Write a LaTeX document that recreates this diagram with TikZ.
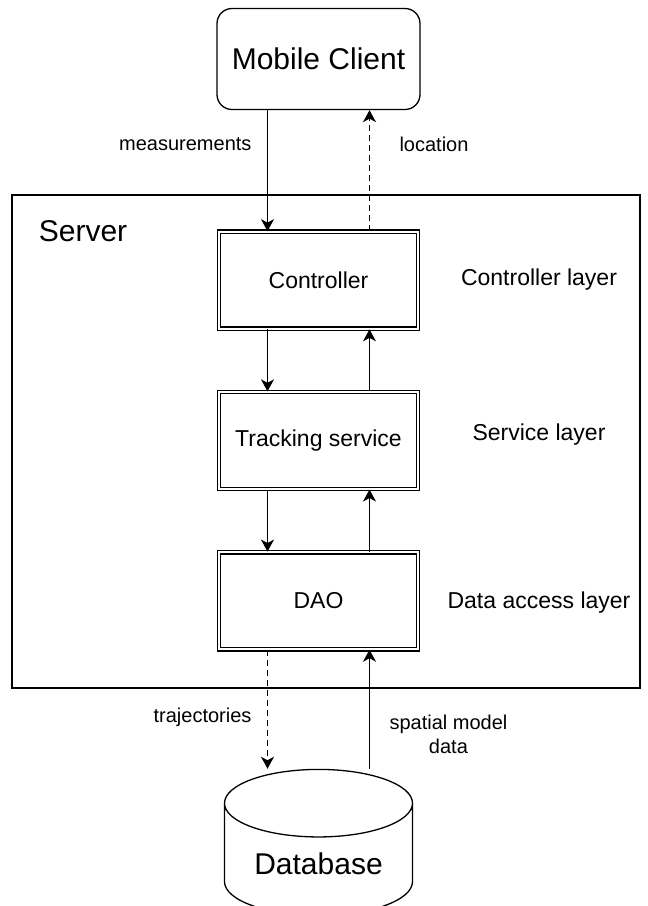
\documentclass[tikz,border=0pt]{standalone}
\usepackage{fontspec}
\setmainfont{Liberation Sans}
\usetikzlibrary{shapes.geometric, arrows.meta, positioning}
\tikzstyle{client} = [rectangle, rounded corners=15pt, minimum width=203pt, minimum height=101pt, text centered, draw=black, line width=1.3pt, font=\fontsize{30}{36}\selectfont]
\tikzstyle{layerbox} = [rectangle, minimum width=199pt, minimum height=97pt, text centered, draw=black, double, double distance=2.4pt, line width=1.2pt, font=\fontsize{23}{28}\selectfont]
\tikzstyle{serverbox} = [rectangle, minimum width=628pt, minimum height=493pt, draw=black, line width=1.3pt]
\tikzstyle{database} = [cylinder, shape border rotate=90, shape aspect=0.5, minimum width=188pt, minimum height=146pt, draw=black, line width=1.3pt, font=\fontsize{30}{36}\selectfont]
\tikzstyle{layername} = [font=\fontsize{23}{28}\selectfont]
\tikzstyle{flowlabel} = [font=\fontsize{20}{24}\selectfont, align=center]
\tikzstyle{arrow} = [line width=1.4pt, -{Stealth[length=12pt, width=13pt, inset=3.5pt]}]
\tikzstyle{darrow} = [arrow, dash pattern=on 6pt off 4pt]

\begin{document}
\begin{tikzpicture}[x=1pt, y=-1pt, node distance=62pt]
    \useasboundingbox (0,0) rectangle (648,906);
    %server frame
    \node (server) [serverbox] at (326,441.5) {};
    \node (srvname) [anchor=west, font=\fontsize{30}{36}\selectfont] at ([xshift=24pt, yshift=-37pt]server.north west) {Server};

    %components
    \node (client) [client] at (318.5,59) {Mobile Client};
    \node (controller) [layerbox, below=121pt of client] {Controller};
    \node (tracking) [layerbox, below=of controller] {Tracking service};
    \node (dao) [layerbox, below=of tracking] {DAO};
    \node (db) [database, below=119pt of dao] {Database};

    %layer names
    \node (ctrllayer) [layername] at (539,280) {Controller layer};
    \node (svclayer) [layername] at (539,435) {Service layer};
    \node (dalayer) [layername] at (539,603) {Data access layer};

    %connectors
    \draw [arrow] ([xshift=-51pt]client.south) -- ([xshift=-51pt]controller.north) node[flowlabel, pos=0.28, left, xshift=-12pt]{measurements};
    \draw [darrow] ([xshift=51pt]controller.north) -- ([xshift=51pt]client.south) node[flowlabel, pos=0.72, right, xshift=26pt]{location};
    \draw [arrow] ([xshift=-51pt]controller.south) -- ([xshift=-51pt]tracking.north);
    \draw [arrow] ([xshift=51pt]tracking.north) -- ([xshift=51pt]controller.south);
    \draw [arrow] ([xshift=-51pt]tracking.south) -- ([xshift=-51pt]dao.north);
    \draw [arrow] ([xshift=51pt]dao.north) -- ([xshift=51pt]tracking.south);
    \draw [darrow] ([xshift=-51pt]dao.south) -- ([xshift=-51pt]db.north) node[flowlabel, pos=0.57, left, xshift=-12pt]{trajectories};
    \draw [arrow] ([xshift=51pt]db.north) -- ([xshift=51pt]dao.south) node[flowlabel, pos=0.29, right, xshift=16pt]{spatial model\\data};
\end{tikzpicture}
\end{document}
